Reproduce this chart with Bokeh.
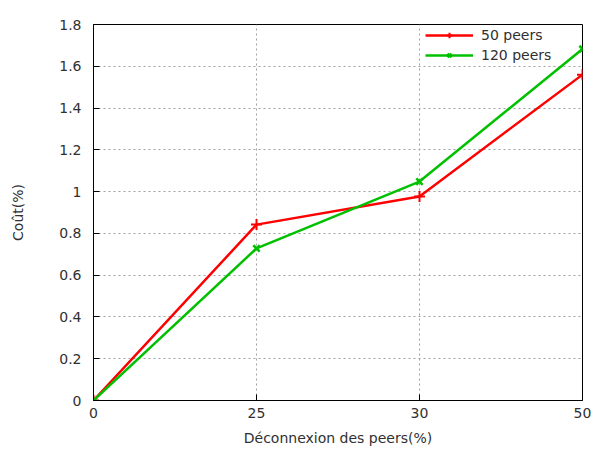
from bokeh.plotting import figure
from bokeh.models import Range1d, FixedTicker, CustomJSTickFormatter, Legend, LegendItem
from bokeh.embed import file_html
from bokeh.resources import INLINE

# Data
x_labels = ["0", "25", "30", "50"]
peers50 = [0.0, 0.842, 0.977, 1.56]
peers120 = [0.0, 0.728, 1.048, 1.683]
y_ticks = [0, 0.2, 0.4, 0.6, 0.8, 1.0, 1.2, 1.4, 1.6, 1.8]
series_names = ["50 peers", "120 peers"]

x_pos = list(range(len(x_labels)))

FONT = "DejaVu Sans"
TXT = "#303030"

p = figure(width=591, height=453, output_backend="svg", toolbar_location=None,
           x_range=Range1d(0, len(x_labels) - 1), y_range=Range1d(0, 1.8),
           min_border_left=93, min_border_right=9, min_border_top=24, min_border_bottom=53)
p.background_fill_color = "white"
p.border_fill_color = "white"
p.outline_line_color = "black"
p.outline_line_width = 1

# grids
for g in (p.xgrid, p.ygrid):
    g.grid_line_color = "#a0a0a0"
    g.grid_line_dash = "2 3"
    g.grid_line_width = 1
p.xgrid.ticker = FixedTicker(ticks=x_pos)
p.ygrid.ticker = FixedTicker(ticks=y_ticks)

# axes
p.xaxis.ticker = FixedTicker(ticks=x_pos)
p.xaxis.major_label_overrides = {i: lab for i, lab in zip(x_pos, x_labels)}
p.yaxis.ticker = FixedTicker(ticks=y_ticks)
p.yaxis.formatter = CustomJSTickFormatter(code="return tick.toFixed(1).replace(/\\.0$/, '');")
p.xaxis.axis_label = "Déconnexion des peers(%)"
p.yaxis.axis_label = "Coût(%)"
for ax in (p.xaxis, p.yaxis):
    ax.axis_line_color = "black"
    ax.major_tick_line_color = "black"
    ax.major_tick_in = 6
    ax.major_tick_out = 0
    ax.minor_tick_line_color = None
    ax.major_label_text_font = FONT
    ax.major_label_text_font_size = "14px"
    ax.major_label_text_color = TXT
    ax.axis_label_text_font = FONT
    ax.axis_label_text_font_size = "14px"
    ax.axis_label_text_font_style = "normal"
    ax.axis_label_text_color = TXT
p.yaxis.major_label_standoff = 12
p.yaxis.axis_label_standoff = 30
p.xaxis.major_label_standoff = 7
p.xaxis.axis_label_standoff = 9

# lines
red = "#ff0000"
green = "#00c000"
l1 = p.line(x_pos, peers50, line_color=red, line_width=2.5)
m1 = p.scatter(x_pos, peers50, marker="cross", size=11, line_color=red, line_width=2)
l2 = p.line(x_pos, peers120, line_color=green, line_width=2.5)
m2 = p.scatter(x_pos, peers120, marker="x", size=9, line_color=green, line_width=2.5)

legend = Legend(items=[LegendItem(label=series_names[0], renderers=[l1, m1]),
                       LegendItem(label=series_names[1], renderers=[l2, m2])],
                location=(332, 337))
legend.background_fill_alpha = 0
legend.border_line_color = None
legend.label_text_font = FONT
legend.label_text_font_size = "14px"
legend.label_text_color = TXT
legend.glyph_width = 48
legend.glyph_height = 14
legend.label_height = 14
legend.spacing = 4
legend.padding = 2
legend.margin = 0
legend.label_standoff = 8
p.add_layout(legend)

open("out.html", "w").write(file_html(p, INLINE))
